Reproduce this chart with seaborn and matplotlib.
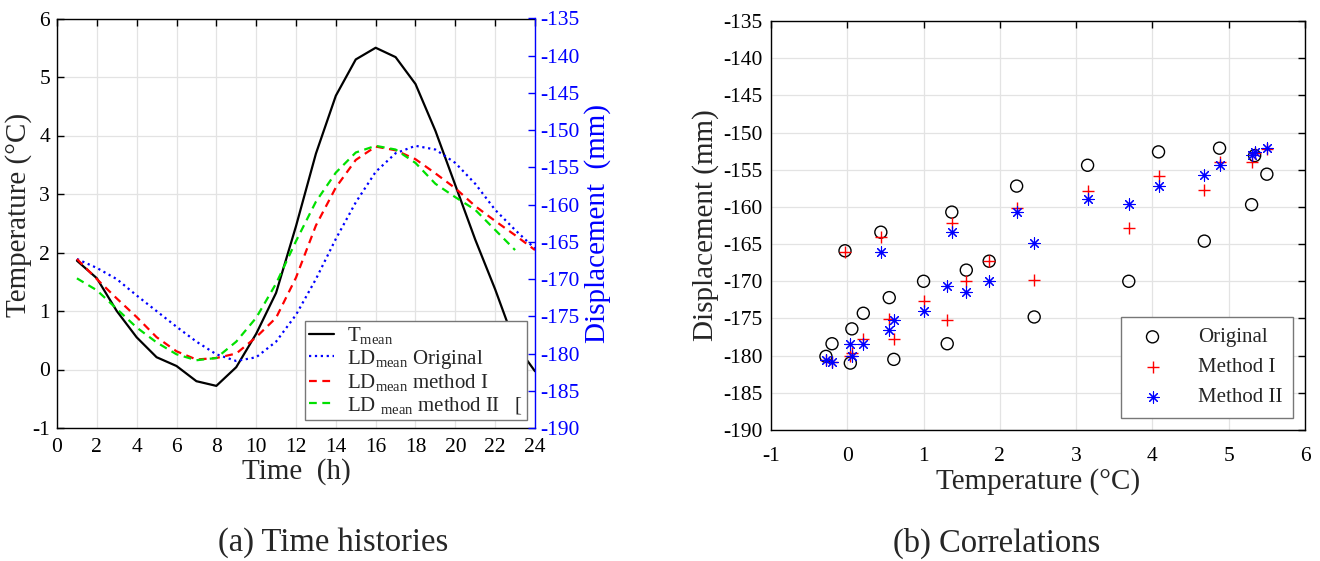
import numpy as np
import pandas as pd
import matplotlib
matplotlib.use("Agg")
import matplotlib.pyplot as plt
from matplotlib.lines import Line2D
import seaborn as sns

# ---------------- data ----------------
hours = list(range(1, 25))
t_mean = [1.86, 1.56, 1.00, 0.55, 0.21, 0.06, -0.20, -0.28, 0.04, 0.61, 1.31, 2.45,
          3.69, 4.68, 5.30, 5.50, 5.34, 4.88, 4.08, 3.15, 2.22, 1.37, 0.44, -0.03]
ld_original = [-167.3, -168.5, -170.0, -172.2, -174.3, -176.4, -178.4, -180.1, -181.0, -180.5,
               -178.4, -174.8, -170.0, -164.6, -159.7, -155.6, -153.1, -152.1, -152.6, -154.4,
               -157.2, -160.7, -163.4, -165.9]
ld_method1 = [-167.3, -170.0, -172.6, -175.1, -177.8, -179.7, -180.8, -180.6, -180.0, -177.8,
              -175.2, -169.8, -162.8, -157.7, -154.0, -152.2, -152.7, -153.9, -155.8, -157.8,
              -160.2, -162.2, -164.1, -166.1]
ld_method2 = [-169.9, -171.5, -174.0, -176.5, -178.5, -180.1, -180.9, -180.6, -178.4, -175.2,
              -170.6, -164.9, -159.6, -155.7, -153.0, -152.1, -152.6, -154.4, -157.2, -159.0,
              -160.7, -163.4, -166.1, np.nan]

line_labels = [r"T$_{\mathrm{mean}}$",
               r"LD$_{\mathrm{mean}}$ Original",
               r"LD$_{\mathrm{mean}}$ method I",
               r"LD $_{\mathrm{mean}}$ method II   ["]
scatter_labels = ["Original", "Method I", "Method II"]

time_ticks = list(range(0, 25, 2))
temp_ticks = list(range(-1, 7))
disp_ticks = list(range(-190, -134, 5))
corr_xticks = list(range(-1, 7))

# ---------------- style ----------------
sns.set_theme(style="white")
plt.rcParams["font.family"] = ["Liberation Serif", "DejaVu Serif"]
plt.rcParams["mathtext.fontset"] = "custom"
plt.rcParams["mathtext.rm"] = "Liberation Serif"
plt.rcParams["mathtext.it"] = "Liberation Serif:italic"
plt.rcParams["axes.edgecolor"] = "black"
plt.rcParams["axes.linewidth"] = 1.0
plt.rcParams["axes.unicode_minus"] = False

TICK = 15.5
LAB = 21
GRID = dict(color="#e3e3e3", linewidth=0.9)

fig = plt.figure(figsize=(13.2, 5.61), dpi=100)

# ---------------- (a) time histories ----------------
ax = fig.add_axes([57/1320, 1-428/561, (535-57)/1320, (428-18.5)/561])
ax2 = ax.twinx()

DASH = (0, (3.5, 2.5))
sns.lineplot(x=hours, y=t_mean, ax=ax, color="black", linewidth=1.6)
sns.lineplot(x=hours, y=ld_original, ax=ax2, color="blue", linewidth=1.6, linestyle=":")
sns.lineplot(x=hours, y=ld_method1, ax=ax2, color="red", linewidth=1.6, linestyle=DASH)
sns.lineplot(x=hours, y=ld_method2, ax=ax2, color="#00e000", linewidth=1.6, linestyle=DASH)

ax.set_xlim(0, 24)
ax.set_ylim(-1, 6)
ax.set_xticks(time_ticks)
ax.set_yticks(temp_ticks)
ax2.set_ylim(-190, -135)
ax2.set_yticks(disp_ticks)
ax.grid(True, **GRID)
ax.set_axisbelow(True)

ax.tick_params(axis="both", direction="in", labelsize=TICK, colors="black", length=5, width=1,
               top=True, right=False)
ax.tick_params(axis="x", pad=7)
ax.tick_params(axis="y", pad=5)
ax2.tick_params(axis="y", direction="in", labelsize=TICK, colors="blue", length=5, width=1, pad=4)
ax2.spines["right"].set_color("blue")
for s in ["left", "top", "bottom"]:
    ax2.spines[s].set_visible(False)
ax.spines["right"].set_visible(False)

ax.set_xlabel("Time  (h)", fontsize=LAB, labelpad=1)
ax.set_ylabel("Temperature (°C)", fontsize=LAB)
ax.yaxis.set_label_coords(-0.052, 0.52)
ax2.set_ylabel("Displacement  (mm)", fontsize=LAB, color="blue", labelpad=3)

handles = [Line2D([], [], color="black", lw=1.6),
           Line2D([], [], color="blue", lw=1.6, ls=":"),
           Line2D([], [], color="red", lw=1.6, ls=DASH),
           Line2D([], [], color="#00e000", lw=1.6, ls=DASH)]
leg = ax2.legend(handles, line_labels, loc="lower right", bbox_to_anchor=(0.983, 0.019),
                 fontsize=15, frameon=True, fancybox=False, framealpha=1,
                 edgecolor="#777777", handlelength=1.2, handletextpad=0.6,
                 labelspacing=0.08, borderpad=0.2, borderaxespad=0)
leg.get_frame().set_linewidth(1.0)

# ---------------- (b) correlations ----------------
bx = fig.add_axes([771/1320, 1-430/561, (1305-771)/1320, (430-21)/561])

sns.scatterplot(x=t_mean, y=ld_original, ax=bx, marker="o", s=75, color="black",
                facecolor="none", edgecolor="black", linewidth=1.0, label=scatter_labels[0])
sns.scatterplot(x=t_mean, y=ld_method1, ax=bx, marker="+", s=75, color="red",
                linewidth=1.0, label=scatter_labels[1])
sns.scatterplot(x=t_mean, y=ld_method2, ax=bx, marker=(8, 2, 0), s=65, color="blue",
                linewidth=0.8, label=scatter_labels[2])

bx.set_xlim(-1, 6)
bx.set_ylim(-190, -135)
bx.set_xticks(corr_xticks)
bx.set_yticks(disp_ticks)
bx.grid(True, **GRID)
bx.set_axisbelow(True)
bx.tick_params(axis="both", direction="in", labelsize=TICK, colors="black", length=5, width=1,
               top=True, right=True)
bx.tick_params(axis="x", pad=12)
bx.tick_params(axis="y", pad=6)
bx.set_xlabel("Temperature (°C)", fontsize=LAB, labelpad=2)
bx.set_ylabel("Displacement (mm)", fontsize=LAB, labelpad=3)

leg2 = bx.legend(loc="lower right", bbox_to_anchor=(0.978, 0.03), fontsize=15,
                 frameon=True, fancybox=False, framealpha=1, edgecolor="#777777",
                 handlelength=2.0, handletextpad=1.2, labelspacing=0.5,
                 borderpad=0.5, borderaxespad=0)
leg2.get_frame().set_linewidth(1.0)

# ---------------- captions ----------------
fig.text(0.252, 0.032, "(a) Time histories", ha="center", va="center", fontsize=23.5)
fig.text(0.755, 0.032, "(b) Correlations", ha="center", va="center", fontsize=23.5)

fig.savefig("out.png", dpi=100)
